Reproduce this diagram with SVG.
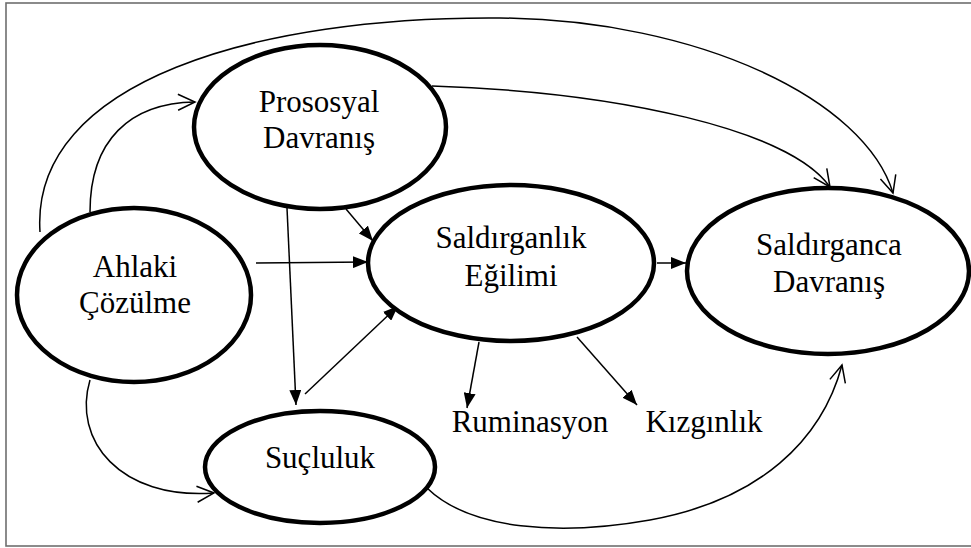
<svg xmlns="http://www.w3.org/2000/svg" width="971" height="548" viewBox="0 0 971 548">
<defs>
<style>
.node{fill:#fff;stroke:#000;stroke-width:4.5}
.lbl{font-family:"Liberation Serif","Times New Roman",serif;font-size:31px;fill:#000;text-anchor:middle}
.c{fill:none;stroke:#000;stroke-width:1.5}
.open{marker-end:url(#openArrow)}
.solid{marker-end:url(#solidArrow)}
</style>
<marker id="openArrow" markerUnits="userSpaceOnUse" markerWidth="20" markerHeight="18" viewBox="0 0 20 18" refX="18" refY="9" orient="auto">
<path d="M1,1 L18,9 L1,17" fill="none" stroke="#000" stroke-width="1.5"/>
</marker>
<marker id="solidArrow" markerUnits="userSpaceOnUse" markerWidth="16" markerHeight="12" viewBox="0 0 16 12" refX="15" refY="6" orient="auto">
<path d="M0,0 L15,6 L0,12 z" fill="#000"/>
</marker>
</defs>
<rect x="6" y="3" width="975" height="543" fill="#fff" stroke="#6e6e6e" stroke-width="1.6"/>
<g id="connectors">
<path class="c open" d="M40,232 C30,80 260,16 500,18 C700,20 865,100 893,193"/>
<path class="c open" d="M432,86 C620,92 790,130 830,187"/>
<path class="c open" d="M90,212 C90,140 130,103 195,102"/>
<path class="c open" d="M90,380 C72,440 120,500 214,493"/>
<path class="c open" d="M427,488 C470,530 560,536 650,520 C760,500 822,440 842,365"/>
<line class="c solid" x1="286" y1="186" x2="296" y2="405"/>
<line class="c solid" x1="305" y1="394" x2="398" y2="306"/>
<line class="c solid" x1="346" y1="209" x2="373" y2="241"/>
<line class="c solid" x1="256" y1="263" x2="368" y2="262"/>
<line class="c solid" x1="657" y1="263" x2="686" y2="263"/>
<line class="c solid" x1="479" y1="342" x2="467" y2="408"/>
<line class="c solid" x1="577" y1="337" x2="637" y2="405"/>
</g>
<g id="prososyal">
<ellipse class="node" cx="320" cy="127" rx="126" ry="82"/>
<text class="lbl" x="319" y="112">Prososyal</text>
<text class="lbl" x="319" y="148">Davranış</text>
</g>
<g id="ahlaki">
<ellipse class="node" cx="134" cy="295" rx="117" ry="87"/>
<text class="lbl" x="135" y="277">Ahlaki</text>
<text class="lbl" x="135" y="313">Çözülme</text>
</g>
<g id="egilim">
<ellipse class="node" cx="511" cy="263" rx="143" ry="78"/>
<text class="lbl" x="511" y="248">Saldırganlık</text>
<text class="lbl" x="511" y="286">Eğilimi</text>
</g>
<g id="davranis">
<ellipse class="node" cx="828" cy="271" rx="141" ry="83"/>
<text class="lbl" x="829" y="255">Saldırganca</text>
<text class="lbl" x="829" y="292">Davranış</text>
</g>
<g id="sucluluk">
<ellipse class="node" cx="320" cy="467" rx="115" ry="56"/>
<text class="lbl" x="320" y="468">Suçluluk</text>
</g>
<g id="ruminasyon">
<text class="lbl" x="530" y="432">Ruminasyon</text>
</g>
<g id="kizginlik">
<text class="lbl" x="704" y="432">Kızgınlık</text>
</g>
</svg>
